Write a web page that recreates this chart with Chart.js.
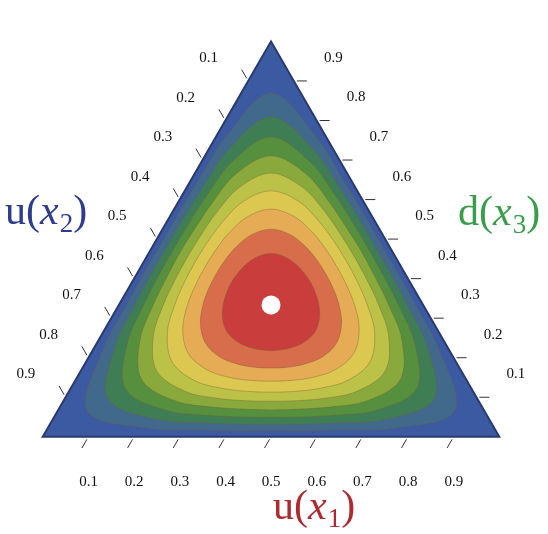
<!DOCTYPE html>
<html>
<head>
<meta charset="utf-8">
<script src="https://cdn.jsdelivr.net/npm/chart.js@4.4.1/dist/chart.umd.min.js"></script>
<style>
  html, body { margin: 0; padding: 0; background: #fff; overflow: hidden; }
  body { width: 548px; height: 534px; }
  /* taller than the window so the radial scale can centre on the triangle's centre */
  #wrap { width: 548px; height: 569px; position: relative; }
</style>
</head>
<body>
<div id="wrap"><canvas id="ternary-chart"></canvas></div>
<script>
// angle around the centre of the triangle, clockwise from the top corner
const angles = ["0", "15", "30", "45", "60", "75", "90", "105", "120", "135", "150", "165",
  "180", "195", "210", "225", "240", "255", "270", "285", "300", "315", "330", "345"];

// distance from the centre to the triangle edge (edge length = 1)
const rTriangle = [0.5774, 0.4082, 0.3333, 0.2989, 0.2887, 0.2989, 0.3333, 0.4082,
  0.5774, 0.4082, 0.3333, 0.2989, 0.2887, 0.2989, 0.3333, 0.4082,
  0.5774, 0.4082, 0.3333, 0.2989, 0.2887, 0.2989, 0.3333, 0.4082];

// contour levels (share of the peak at the centre)
const levels = [0.1, 0.2, 0.3, 0.4, 0.5, 0.6, 0.7, 0.8, 0.9];

// distance from the centre to each contour line
const rContour1 = [0.464, 0.381, 0.316, 0.285, 0.275, 0.285, 0.316, 0.381,
  0.464, 0.381, 0.316, 0.285, 0.275, 0.285, 0.316, 0.381,
  0.464, 0.381, 0.316, 0.285, 0.275, 0.285, 0.316, 0.381];
const rContour2 = [0.412, 0.354, 0.298, 0.270, 0.261, 0.270, 0.298, 0.354,
  0.412, 0.354, 0.298, 0.270, 0.261, 0.270, 0.298, 0.354,
  0.412, 0.354, 0.298, 0.270, 0.261, 0.270, 0.298, 0.354];
const rContour3 = [0.368, 0.326, 0.279, 0.254, 0.246, 0.254, 0.279, 0.326,
  0.368, 0.326, 0.279, 0.254, 0.246, 0.254, 0.279, 0.326,
  0.368, 0.326, 0.279, 0.254, 0.246, 0.254, 0.279, 0.326];
const rContour4 = [0.327, 0.297, 0.258, 0.236, 0.230, 0.236, 0.258, 0.297,
  0.327, 0.297, 0.258, 0.236, 0.230, 0.236, 0.258, 0.297,
  0.327, 0.297, 0.258, 0.236, 0.230, 0.236, 0.258, 0.297];
const rContour5 = [0.289, 0.267, 0.236, 0.217, 0.211, 0.217, 0.236, 0.267,
  0.289, 0.267, 0.236, 0.217, 0.211, 0.217, 0.236, 0.267,
  0.289, 0.267, 0.236, 0.217, 0.211, 0.217, 0.236, 0.267];
const rContour6 = [0.250, 0.235, 0.211, 0.196, 0.191, 0.196, 0.211, 0.235,
  0.250, 0.235, 0.211, 0.196, 0.191, 0.196, 0.211, 0.235,
  0.250, 0.235, 0.211, 0.196, 0.191, 0.196, 0.211, 0.235];
const rContour7 = [0.210, 0.200, 0.183, 0.171, 0.167, 0.171, 0.183, 0.200,
  0.210, 0.200, 0.183, 0.171, 0.167, 0.171, 0.183, 0.200,
  0.210, 0.200, 0.183, 0.171, 0.167, 0.171, 0.183, 0.200];
const rContour8 = [0.166, 0.160, 0.149, 0.141, 0.138, 0.141, 0.149, 0.160,
  0.166, 0.160, 0.149, 0.141, 0.138, 0.141, 0.149, 0.160,
  0.166, 0.160, 0.149, 0.141, 0.138, 0.141, 0.149, 0.160];
const rContour9 = [0.113, 0.110, 0.105, 0.101, 0.100, 0.101, 0.105, 0.110,
  0.113, 0.110, 0.105, 0.101, 0.100, 0.101, 0.105, 0.110,
  0.113, 0.110, 0.105, 0.101, 0.100, 0.101, 0.105, 0.110];

// the peak sits on the centre
const peak = [0];

// ticks on the three sides
const tickValues = [0.1, 0.2, 0.3, 0.4, 0.5, 0.6, 0.7, 0.8, 0.9];
const tickLabels = ["0.1", "0.2", "0.3", "0.4", "0.5", "0.6", "0.7", "0.8", "0.9"];

// axis titles: bottom, left, right
const axisNames = ["u", "u", "d"];
const axisSubs = ["1", "2", "3"];

const contours = [rContour1, rContour2, rContour3, rContour4, rContour5,
  rContour6, rContour7, rContour8, rContour9];

// band colours, outside the first contour to inside the last one
const bandColors = ["#3c5aa2", "#41698c", "#3f7d55", "#568f3e", "#8aa93d",
  "#bcc247", "#dcc851", "#e5ab55", "#d76d4a", "#c93e3d"];
const titleColors = ["#ad2a30", "#2d3c8e", "#3a9d4a"];

const serif = '"Liberation Serif", "Times New Roman", serif';

// ticks, tick labels and titles along the triangle sides
const ternaryAxes = {
  id: "ternaryAxes",
  afterDatasetsDraw(chart) {
    const scale = chart.scales.r;
    const ctx = chart.ctx;
    const unit = scale.getDistanceFromCenterForValue(1) - scale.getDistanceFromCenterForValue(0);
    const cx = scale.xCenter;
    const cy = scale.yCenter;
    const s = Math.sqrt(3) / 2;

    // (a, b, c): a = bottom right corner, b = bottom left, c = top
    function toPixel(a, b, c) {
      const x = a + c / 2 - 0.5;
      const y = c * s - s / 3;
      return { x: cx + x * unit, y: cy - y * unit };
    }

    const sides = [
      { at: t => toPixel(t, 1 - t, 0), dir: { x: -0.5, y: s } },
      { at: t => toPixel(0, t, 1 - t), dir: { x: -0.5, y: -s } },
      { at: t => toPixel(1 - t, 0, t), dir: { x: 1, y: 0 } }
    ];

    ctx.save();
    ctx.strokeStyle = "#333";
    ctx.lineWidth = 1;
    ctx.fillStyle = "#111";
    ctx.font = "15px " + serif;
    ctx.textAlign = "center";
    ctx.textBaseline = "middle";
    sides.forEach(side => {
      const d = side.dir;
      const perp = { x: d.y, y: -d.x };
      tickValues.forEach((t, i) => {
        const p = side.at(t);
        ctx.beginPath();
        ctx.moveTo(p.x + d.x * 3, p.y + d.y * 3);
        ctx.lineTo(p.x + d.x * 13, p.y + d.y * 13);
        ctx.stroke();
        ctx.fillText(tickLabels[i], p.x + d.x * 39.5 + perp.x * 23, p.y + d.y * 39.5 + perp.y * 23);
      });
    });

    // titles
    const titlePos = [{ x: 273, y: 519 }, { x: 5, y: 224 }, { x: 458, y: 225 }];
    ctx.textAlign = "left";
    ctx.textBaseline = "alphabetic";
    titlePos.forEach((pos, i) => {
      const parts = [
        [axisNames[i] + "(", "42px " + serif, 0],
        ["x", "italic 42px " + serif, 0],
        [axisSubs[i], "27px " + serif, 8],
        [")", "42px " + serif, 0]
      ];
      let x = pos.x;
      ctx.fillStyle = titleColors[i];
      parts.forEach(([text, font, dy]) => {
        ctx.font = font;
        ctx.fillText(text, x, pos.y + dy);
        x += ctx.measureText(text).width + (text === "x" ? 1 : 0);
      });
    });
    ctx.restore();
  }
};

const datasets = [{
  label: "triangle",
  data: rTriangle,
  order: 20,
  fill: "origin",
  backgroundColor: bandColors[0],
  borderColor: "#2a3a6e",
  borderWidth: 2,
  tension: 0,
  pointRadius: 0,
  clip: false
}];

contours.forEach((r, k) => {
  datasets.push({
    label: "level " + levels[k],
    data: r,
    order: 10 - k,
    fill: "origin",
    backgroundColor: bandColors[k + 1],
    borderColor: "rgba(120, 95, 55, 0.4)",
    borderWidth: 1,
    tension: 0.35,
    pointRadius: 0,
    clip: false
  });
});

datasets.push({
  label: "peak",
  data: peak,
  order: 0,
  fill: false,
  showLine: false,
  pointRadius: 9.5,
  pointBackgroundColor: "#ffffff",
  pointBorderWidth: 0,
  clip: false
});

const ctx = document.getElementById("ternary-chart").getContext("2d");
window.chartInstance = new Chart(ctx, {
  type: "radar",
  data: {
    labels: angles,
    datasets: datasets
  },
  options: {
    responsive: true,
    maintainAspectRatio: false,
    animation: false,
    events: [],
    layout: { padding: { top: 41, right: 6, bottom: 0, left: 0 } },
    plugins: {
      legend: { display: false },
      tooltip: { enabled: false }
    },
    scales: {
      r: {
        display: false,
        min: 0,
        max: 0.5783,
        startAngle: 0,
        ticks: { display: false },
        pointLabels: { display: false },
        grid: { display: false },
        angleLines: { display: false }
      }
    }
  },
  plugins: [ternaryAxes]
});
</script>
</body>
</html>
